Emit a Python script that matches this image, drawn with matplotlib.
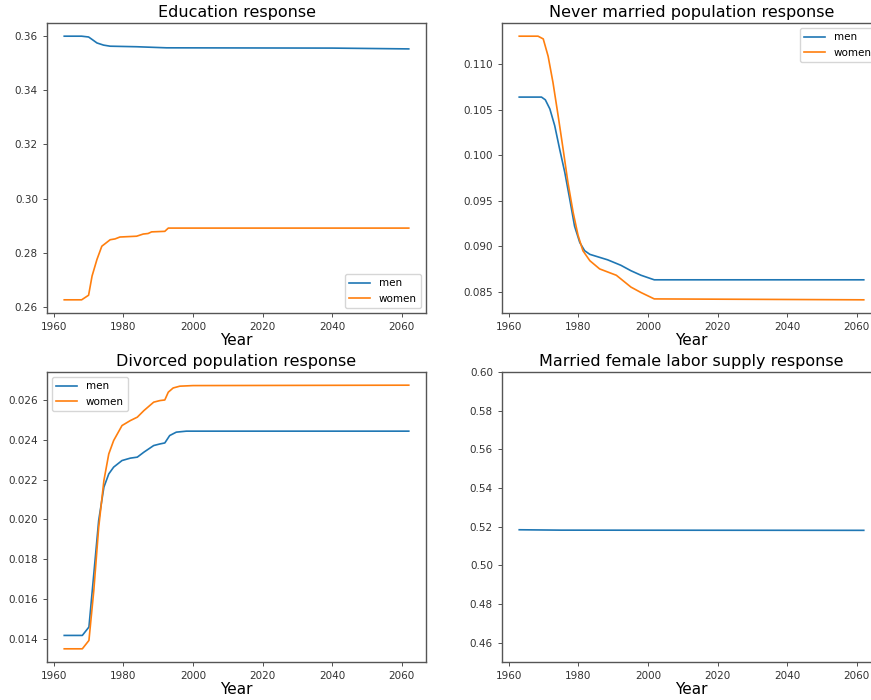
import matplotlib
matplotlib.use("Agg")
import matplotlib.pyplot as plt

# Education response
edu_men_years = [1963, 1968, 1970, 1971, 1972.4, 1974.3, 1976.2, 1980, 1983.8, 1992.4, 2040, 2062]
edu_men = [0.3600, 0.3600, 0.3597, 0.3588, 0.3575, 0.3567, 0.3563, 0.3562, 0.3561, 0.3557, 0.3556, 0.3553]
edu_women_years = [1963, 1968, 1970, 1971, 1972.4, 1973.8, 1974.8, 1976.2, 1977.6, 1979, 1983.8,
                   1985.7, 1987.1, 1988.1, 1991.9, 1992.9, 2062]
edu_women = [0.2626, 0.2626, 0.2643, 0.2714, 0.2775, 0.2824, 0.2834, 0.2848, 0.2851, 0.2858, 0.2861,
             0.2869, 0.2871, 0.2877, 0.2879, 0.2891, 0.2891]

# Never married population response
nm_men_years = [1963, 1969.4, 1970.5, 1971.8, 1973.2, 1974.6, 1976.1, 1977.5, 1978.9, 1980.4, 1981.8,
                1983.3, 1988.4, 1992.2, 1995.1, 1998, 2001.8, 2062]
nm_men = [0.1064, 0.1064, 0.1061, 0.1051, 0.10325, 0.1007, 0.0981, 0.0952, 0.0922, 0.0904, 0.0895,
          0.0891, 0.0885, 0.0879, 0.0873, 0.0868, 0.0863, 0.0863]
nm_women_years = [1963, 1968.4, 1969.9, 1971.3, 1972.7, 1974.2, 1975.6, 1977, 1978.5, 1979.9, 1981.3,
                  1983.3, 1986.1, 1990.9, 1992.2, 1995.1, 1998, 2001.8, 2062]
nm_women = [0.1131, 0.1131, 0.1128, 0.1109, 0.1080, 0.1043, 0.1007, 0.0970, 0.0937, 0.0912, 0.0895,
            0.0884, 0.0875, 0.0868, 0.0864, 0.0855, 0.0849, 0.0842, 0.0841]

# Divorced population response
div_men_years = [1963, 1968.2, 1970.1, 1971.5, 1972.9, 1974.4, 1975.8, 1977.2, 1979.6, 1982, 1984,
                 1985.9, 1988.7, 1990.5, 1991.9, 1993.3, 1995.2, 1998.1, 2062]
div_men = [0.0142, 0.0142, 0.01462, 0.01728, 0.01995, 0.02162, 0.02228, 0.02262, 0.02295, 0.02307,
           0.02312, 0.02337, 0.0237, 0.02378, 0.02383, 0.0242, 0.02437, 0.02442, 0.02442]
div_women_years = [1963, 1968.2, 1970.1, 1971.5, 1972.9, 1974.4, 1975.8, 1977.2, 1979.6, 1982, 1984,
                   1985.9, 1988.7, 1990.5, 1991.9, 1992.9, 1994.3, 1996.2, 2000, 2062]
div_women = [0.01353, 0.01353, 0.01395, 0.01645, 0.0196, 0.02195, 0.02328, 0.02395, 0.0247, 0.02495,
             0.02512, 0.02545, 0.02587, 0.02595, 0.02598, 0.02637, 0.02658, 0.02667, 0.0267, 0.02672]

# Married female labor supply response
lab_years = [1963, 1975, 2062]
lab_supply = [0.5184, 0.5182, 0.5181]

fig = plt.figure(figsize=(8.71, 7.0), dpi=100)
W, H = 871, 700

def make_ax(x0, y0, x1, y1):
    ax = fig.add_axes([x0 / W, 1 - y1 / H, (x1 - x0) / W, (y1 - y0) / H])
    ax.tick_params(labelsize=7.5, length=3, width=0.6, colors="#333333")
    for s in ax.spines.values():
        s.set_color("#555555")
        s.set_linewidth(1.0)
    return ax

ax1 = make_ax(47, 23, 426, 313)
ax2 = make_ax(502, 23, 881, 313)
ax3 = make_ax(47, 372, 426, 662)
ax4 = make_ax(502, 372, 881, 662)

lw = 1.2
ax1.plot(edu_men_years, edu_men, lw=lw, label="men")
ax1.plot(edu_women_years, edu_women, lw=lw, label="women")
ax1.set_title("Education response", fontsize=11.5, pad=4)
ax1.legend(loc="lower right", fontsize=7.5)

ax2.plot(nm_men_years, nm_men, lw=lw, label="men")
ax2.plot(nm_women_years, nm_women, lw=lw, label="women")
ax2.set_title("Never married population response", fontsize=11.5, pad=4)
ax2.legend(loc="upper right", fontsize=7.5)

ax3.plot(div_men_years, div_men, lw=lw, label="men")
ax3.plot(div_women_years, div_women, lw=lw, label="women")
ax3.set_title("Divorced population response", fontsize=11.5, pad=4)
ax3.legend(loc="upper left", fontsize=7.5)

ax4.plot(lab_years, lab_supply, lw=lw)
ax4.set_ylim(0.45, 0.60)
ax4.set_title("Married female labor supply response", fontsize=11.5, pad=4)

for ax in (ax1, ax2, ax3, ax4):
    ax.set_xlabel("Year", fontsize=11, labelpad=1)

fig.savefig("out.png", dpi=100)
